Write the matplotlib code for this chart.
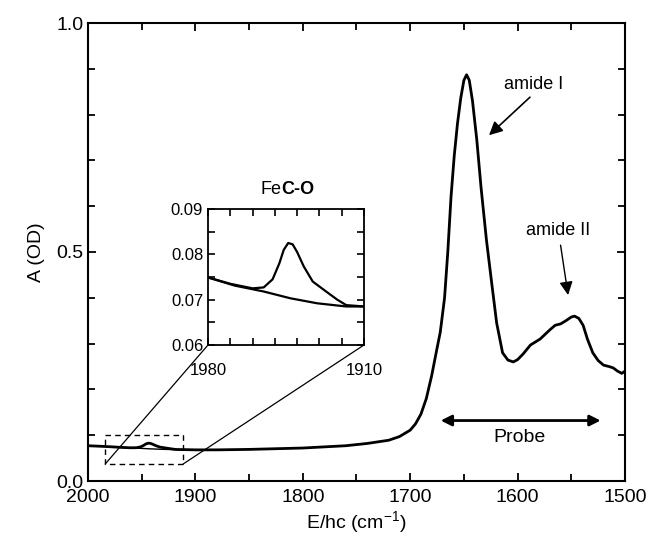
import matplotlib
matplotlib.use("Agg")
import matplotlib.pyplot as plt
from matplotlib.patches import Rectangle, ConnectionPatch
from matplotlib.ticker import MultipleLocator, FixedLocator

plt.rcParams['font.family'] = ['Liberation Sans', 'DejaVu Sans']
plt.rcParams['mathtext.fontset'] = 'custom'
plt.rcParams['mathtext.rm'] = 'Liberation Sans'
plt.rcParams['mathtext.it'] = 'Liberation Sans:italic'
plt.rcParams['mathtext.bf'] = 'Liberation Sans:bold'

# Spectrum (wavenumber cm-1, absorbance OD)
wavenumber = [2000, 1990, 1980, 1970, 1960, 1955, 1951, 1948, 1946, 1944, 1942, 1940,
              1937, 1933, 1927, 1922, 1918, 1910, 1900, 1880, 1850, 1800, 1760, 1740,
              1720, 1710, 1700, 1695, 1690, 1685, 1680, 1675, 1672, 1668, 1665, 1662,
              1659, 1656, 1653, 1650, 1647.5, 1645, 1642, 1638, 1634, 1629, 1624, 1619.5,
              1614, 1609, 1604, 1600, 1595, 1588, 1579, 1570, 1565, 1560, 1555, 1550,
              1547, 1543, 1539, 1535, 1530, 1525, 1520, 1515, 1511, 1507, 1503, 1500]
absorbance = [0.0770, 0.0760, 0.0749, 0.0735, 0.0725, 0.0727, 0.0745, 0.0780, 0.0810, 0.0825, 0.0822, 0.0805,
              0.0773, 0.0740, 0.0718, 0.0700, 0.0688, 0.0685, 0.0680, 0.0680, 0.0690, 0.0720, 0.0770, 0.0820,
              0.089, 0.097, 0.111, 0.125, 0.146, 0.180, 0.230, 0.290, 0.325, 0.400, 0.500, 0.620,
              0.710, 0.780, 0.835, 0.875, 0.887, 0.875, 0.830, 0.745, 0.640, 0.526, 0.430, 0.345,
              0.280, 0.264, 0.260, 0.265, 0.277, 0.297, 0.310, 0.330, 0.340, 0.343, 0.350, 0.358,
              0.360, 0.355, 0.340, 0.310, 0.280, 0.263, 0.253, 0.250, 0.247, 0.240, 0.235, 0.240]

# Reference baseline under the Fe-CO band
baseline_wn = [1980, 1968, 1955, 1943, 1931, 1918, 1910]
baseline_abs = [0.0749, 0.0731, 0.0718, 0.0703, 0.0692, 0.0685, 0.0685]

W, H = 648, 543
fig = plt.figure(figsize=(W / 100, H / 100), dpi=100)
ax = fig.add_axes([88 / W, 1 - 481 / H, (625 - 88) / W, (481 - 23) / H])

ax.plot(wavenumber, absorbance, color='black', lw=2.0)
ax.plot(baseline_wn, baseline_abs, color='black', lw=1.0)
ax.set_xlim(2000, 1500)
ax.set_ylim(0, 1.0)
ax.xaxis.set_major_locator(MultipleLocator(100))
ax.xaxis.set_minor_locator(MultipleLocator(50))
ax.yaxis.set_major_locator(FixedLocator([0.0, 0.5, 1.0]))
ax.yaxis.set_minor_locator(MultipleLocator(0.1))
ax.yaxis.set_major_formatter(matplotlib.ticker.FormatStrFormatter('%.1f'))
ax.tick_params(which='both', direction='in', top=True, right=True, width=1.3, labelsize=14)
ax.tick_params(which='major', length=6)
ax.tick_params(which='minor', length=5)
ax.tick_params(axis='x', which='major', pad=6)
for s in ax.spines.values():
    s.set_linewidth(1.5)
ax.set_xlabel('E/hc (cm$^{-1}$)', fontsize=14, labelpad=2)
ax.set_ylabel('A (OD)', fontsize=14, labelpad=8)

# annotations
ax.text(1585, 0.865, 'amide I', fontsize=13, ha='center', va='center')
ax.annotate('', xy=(1626.6, 0.755), xytext=(1588.5, 0.838),
            arrowprops=dict(arrowstyle='-|>', color='black', lw=1.2, mutation_scale=20,
                            shrinkA=0, shrinkB=0))
ax.text(1562, 0.548, 'amide II', fontsize=13, ha='center', va='center')
ax.annotate('', xy=(1553, 0.406), xytext=(1560, 0.515),
            arrowprops=dict(arrowstyle='-|>', color='black', lw=1.0, mutation_scale=20,
                            shrinkA=0, shrinkB=0))
ax.annotate('', xy=(1671.6, 0.132), xytext=(1522.7, 0.132),
            arrowprops=dict(arrowstyle='<|-|>', color='black', lw=2.0, mutation_scale=16,
                            shrinkA=0, shrinkB=0))
ax.text(1597.8, 0.094, 'Probe', fontsize=14, ha='center', va='center')

# dashed box
box_x0, box_x1, box_y0, box_y1 = 1984, 1911.5, 0.037, 0.100
ax.add_patch(Rectangle((box_x1, box_y0), box_x0 - box_x1, box_y1 - box_y0,
                       fill=False, ls=(0, (4, 3)), lw=1.0, color='black'))

# inset
ins = fig.add_axes([208 / W, 1 - 345 / H, (364 - 208) / W, (345 - 209) / H])
ins.plot(wavenumber, absorbance, color='black', lw=1.6)
ins.plot(baseline_wn, baseline_abs, color='black', lw=1.6)
ins.set_xlim(1980, 1910)
ins.set_ylim(0.06, 0.09)
ins.xaxis.set_major_locator(FixedLocator([1980, 1910]))
ins.xaxis.set_minor_locator(MultipleLocator(10))
ins.yaxis.set_major_locator(MultipleLocator(0.01))
ins.yaxis.set_minor_locator(MultipleLocator(0.005))
ins.yaxis.set_major_formatter(matplotlib.ticker.FormatStrFormatter('%.2f'))
ins.tick_params(which='both', direction='in', top=True, right=True, width=1.2, labelsize=12)
ins.tick_params(which='major', length=5)
ins.tick_params(which='minor', length=5)
ins.tick_params(axis='x', which='major', pad=13)
for s in ins.spines.values():
    s.set_linewidth(1.3)
fig.text(281 / W, 1 - 189 / H, 'Fe', fontsize=13, ha='right', va='center')
fig.text(281 / W, 1 - 189 / H, 'C-O', fontsize=13, ha='left', va='center', fontweight='bold')

for xd, xa in [(box_x0, 0), (box_x1, 1)]:
    cp = ConnectionPatch(xyA=(xd, box_y0), coordsA=ax.transData,
                         xyB=(xa, 0), coordsB=ins.transAxes, color='black', lw=0.9)
    fig.add_artist(cp)

fig.savefig('out.png', dpi=100)
